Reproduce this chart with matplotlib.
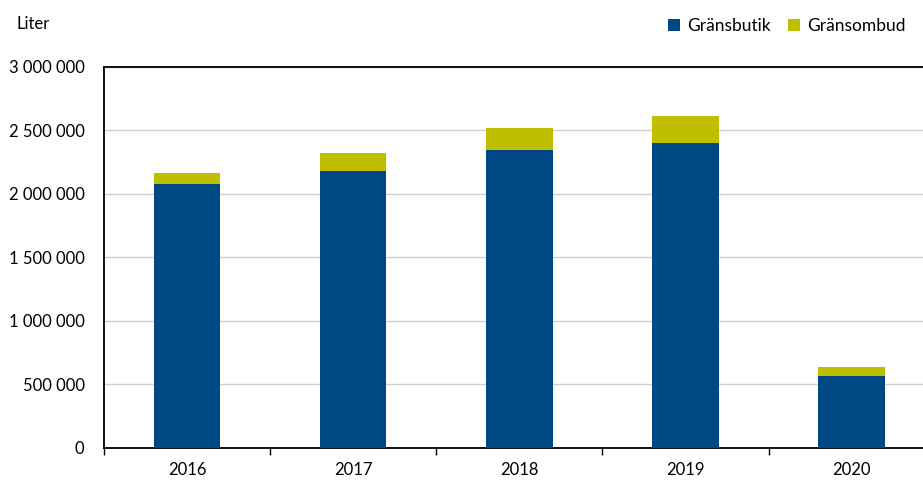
import matplotlib.pyplot as plt
import numpy as np
from matplotlib.ticker import FuncFormatter

plt.rcParams['font.family'] = ['Lato', 'DejaVu Sans']

years = ['2016', '2017', '2018', '2019', '2020']
gransbutik = [2079000, 2178000, 2346000, 2402000, 567000]
gransombud = [84000, 142000, 174000, 212000, 73000]

blue = '#004785'
yellow = '#bfbf00'

fig = plt.figure(figsize=(9.23, 4.80), dpi=100)
ax = fig.add_axes([0.1127, 0.0667, 0.9, 0.7938])

x = np.arange(len(years))
ax.bar(x, gransbutik, width=0.4, color=blue, label='Gränsbutik', zorder=3)
ax.bar(x, gransombud, width=0.4, bottom=gransbutik, color=yellow, label='Gränsombud', zorder=3)

ax.set_xlim(-0.5, 4.5)
ax.set_ylim(0, 3000000)
ax.set_yticks(np.arange(0, 3000001, 500000))
ax.yaxis.set_major_formatter(FuncFormatter(lambda v, p: f'{int(v):,}'.replace(',', ' ')))
ax.grid(axis='y', color='#d0d0d0', linewidth=1, zorder=0)

ax.set_xticks(x)
ax.set_xticklabels(years)
ax.set_xticks(np.arange(-0.5, 5, 1), minor=True)
ax.tick_params(axis='x', which='major', length=0, pad=10, labelsize=12)
ax.tick_params(axis='x', which='minor', length=5, direction='out', width=1)
ax.tick_params(axis='y', length=0, pad=14, labelsize=12)

for side in ['top', 'left', 'bottom']:
    ax.spines[side].set_color('black')
    ax.spines[side].set_linewidth(1.3)
ax.spines['right'].set_visible(False)

fig.text(0.018, 0.951, 'Liter', fontsize=12, va='center', ha='left')

ax.legend(loc='center right', bbox_to_anchor=(0.998, 0.946), bbox_transform=fig.transFigure,
          ncol=2, frameon=False, fontsize=12.5, handlelength=0.7, handleheight=0.7,
          handletextpad=0.4, columnspacing=1.0)

plt.savefig('out.png', dpi=100)
